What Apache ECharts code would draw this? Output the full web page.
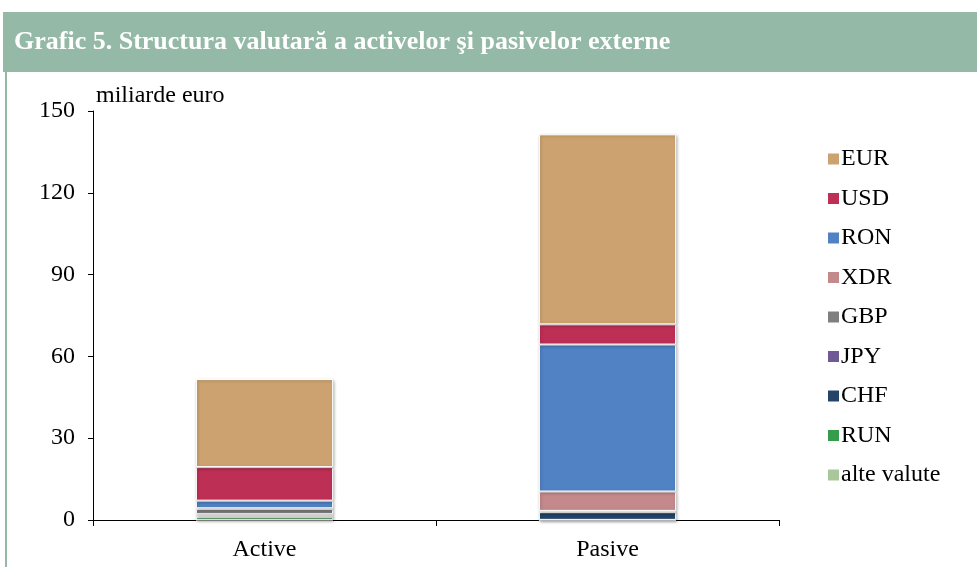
<!DOCTYPE html>
<html>
<head>
<meta charset="utf-8">
<script src="https://cdn.jsdelivr.net/npm/echarts@6/dist/echarts.min.js"></script>
<style>
  html, body { margin: 0; padding: 0; background: #fff; }
  #chart { width: 977px; height: 567px; }
</style>
</head>
<body>
<div id="chart"></div>
<script>
// categorii si valori (miliarde euro)
const categories = ["Active", "Pasive"];
const currencies = ["EUR", "USD", "RON", "XDR", "GBP", "JPY", "CHF", "RUN", "alte valute"];
const colors = ["#cca370", "#be2f55", "#5082c4", "#c48a8b", "#7f7f7f", "#705a95", "#24446a", "#349c4a", "#a9c79a"];
const EUR = [32.3, 69.7];
const USD = [12.3, 7.4];
const RON = [2.8, 53.9];
const XDR = [0.3, 7.1];
const GBP = [1.9, 0.4];
const JPY = [0.7, 0.1];
const CHF = [0.3, 2.8];
const RUN = [1.0, 0.0];
const ALTE = [0.1, 0.05];
const yTicks = [0, 30, 60, 90, 120, 150];

const values = [EUR, USD, RON, XDR, GBP, JPY, CHF, RUN, ALTE];
const font = "'Liberation Serif', 'Times New Roman', serif";

// stiva de jos in sus: alte valute ... EUR
const series = [];
for (let i = currencies.length - 1; i >= 0; i--) {
  series.push({
    name: currencies[i],
    type: "bar",
    stack: "total",
    barWidth: "40%",
    data: values[i],
    itemStyle: {
      color: colors[i],
      borderColor: "#ffffff",
      borderWidth: 1,
      shadowBlur: 3,
      shadowColor: "rgba(0,0,0,0.25)",
      shadowOffsetX: 1,
      shadowOffsetY: 1
    }
  });
}

const mychart = echarts.init(document.getElementById("chart"));
const options = {
  animation: false,
  backgroundColor: "#ffffff",
  textStyle: { fontFamily: font },
  graphic: [
    { type: "rect", shape: { x: 3, y: 12, width: 974, height: 60 }, style: { fill: "#95b9a7" } },
    { type: "rect", shape: { x: 5, y: 72, width: 2, height: 495 }, style: { fill: "#95b9a7" } },
    {
      type: "text", left: 14, top: 29,
      style: { text: "Grafic 5. Structura valutară a activelor şi pasivelor externe", fill: "#ffffff",
               font: "bold 26px " + font }
    },
    {
      type: "text", left: 96, top: 84,
      style: { text: "miliarde euro", fill: "#000", font: "24px " + font }
    }
  ],
  legend: {
    orient: "vertical",
    left: 823,
    top: 142,
    itemWidth: 11,
    itemHeight: 11,
    itemGap: 15.5,
    icon: "rect",
    data: currencies,
    itemStyle: { borderWidth: 0, shadowBlur: 0, shadowOffsetX: 0, shadowOffsetY: 0 },
    textStyle: { fontFamily: font, fontSize: 24, color: "#000", padding: [0, 0, 0, -3] }
  },
  grid: { left: 93, right: 198, top: 111, bottom: 47 },
  xAxis: {
    type: "category",
    data: categories,
    axisLine: { lineStyle: { color: "#000", width: 1 } },
    axisTick: { show: true, length: 6, lineStyle: { color: "#000" } },
    axisLabel: { fontFamily: font, fontSize: 24, color: "#000", margin: 18 }
  },
  yAxis: {
    type: "value",
    min: yTicks[0],
    max: yTicks[yTicks.length - 1],
    interval: 30,
    splitLine: { show: false },
    axisLine: { show: true, lineStyle: { color: "#000", width: 1 } },
    axisTick: { show: true, length: 5, lineStyle: { color: "#000" } },
    axisLabel: { fontFamily: font, fontSize: 24, color: "#000", margin: 18 }
  },
  series: series
};
mychart.setOption(options);
</script>
</body>
</html>
